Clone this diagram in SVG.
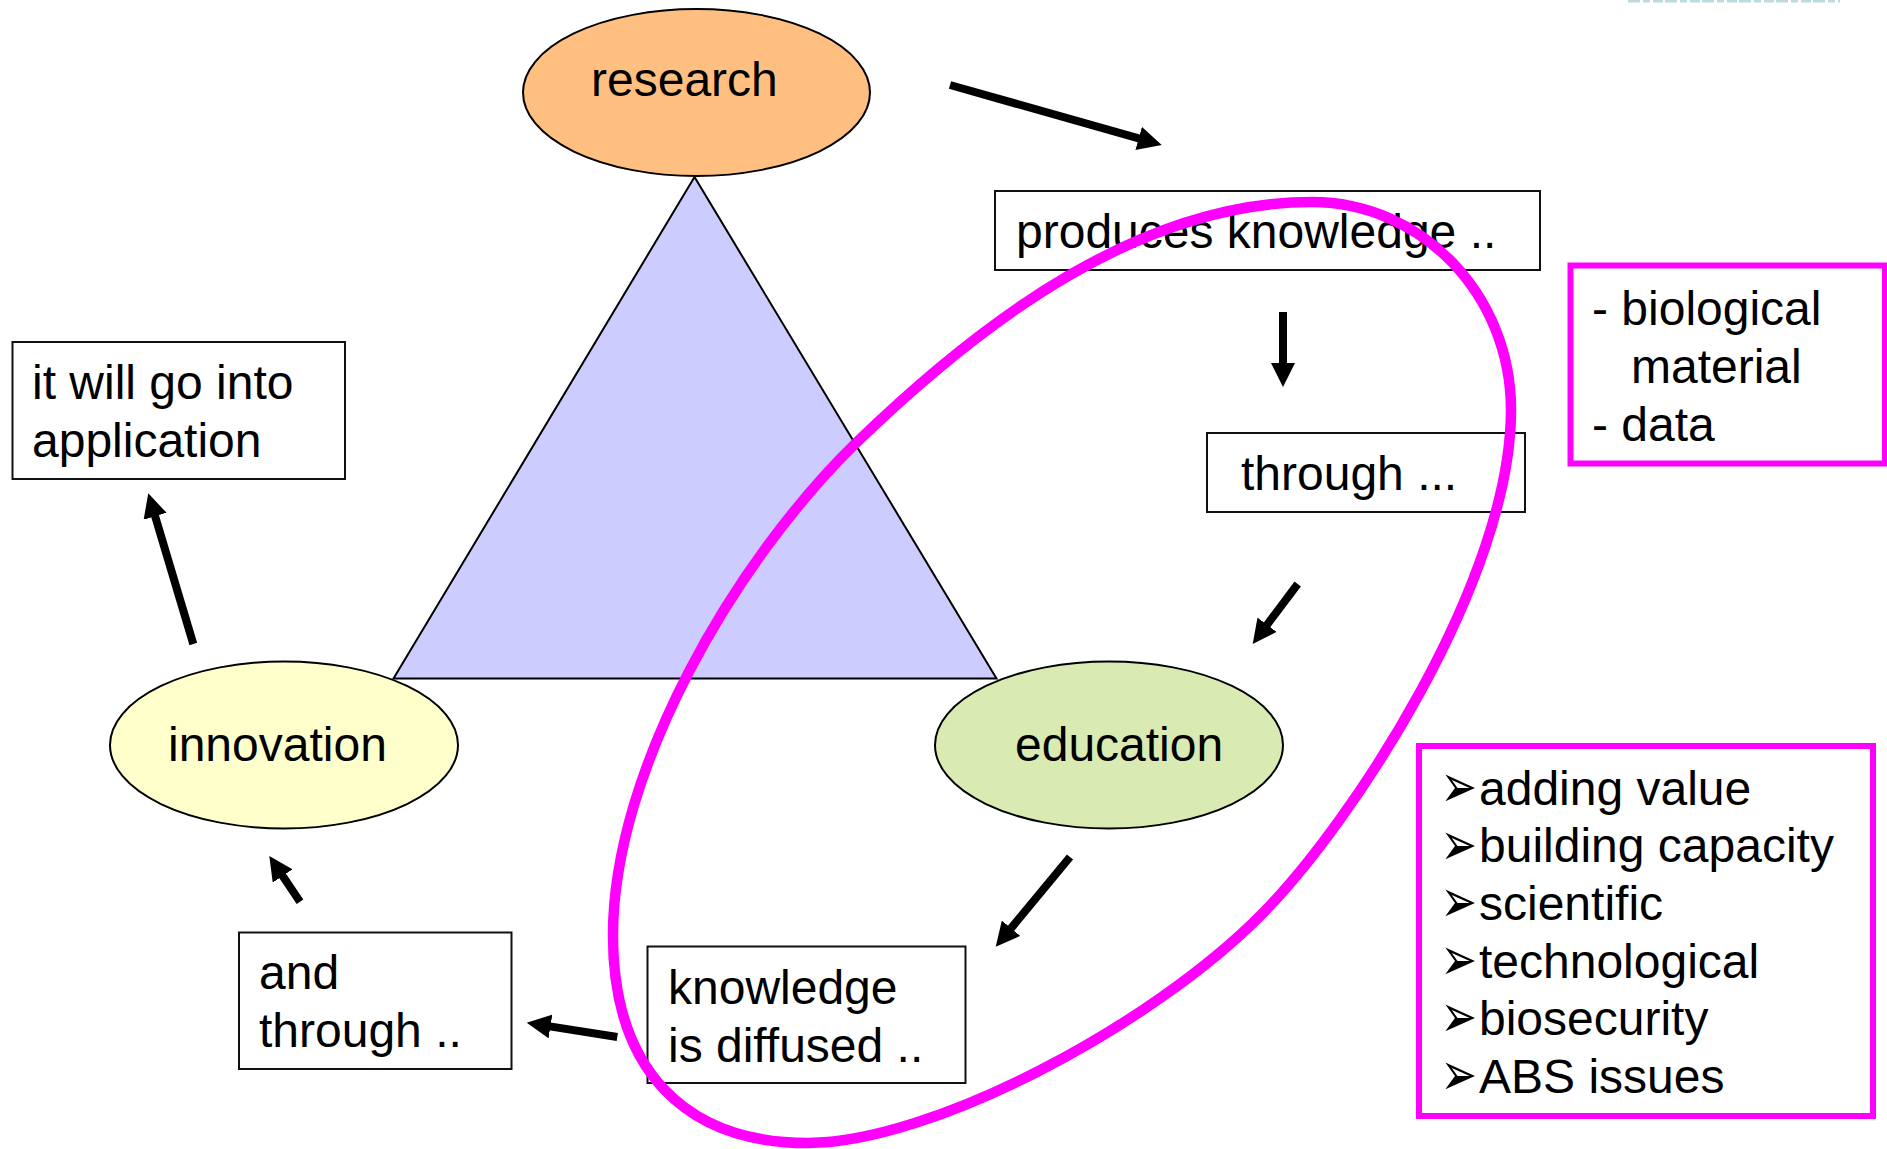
<svg xmlns="http://www.w3.org/2000/svg" width="1887" height="1149" viewBox="0 0 1887 1149">
<style>
text{font-family:"Liberation Sans",Arial,sans-serif;font-size:48px;fill:#000}
.node{stroke:#000;stroke-width:2}
.box{fill:#fff;stroke:#111;stroke-width:2}
.pink{fill:#fff;stroke:#f0f;stroke-width:6}
.arrow{fill:none;stroke:#000;stroke-width:8;marker-end:url(#head)}
text.bullet{font-family:"DejaVu Sans",sans-serif;font-size:38px}
</style>
<defs>
<marker id="head" markerUnits="userSpaceOnUse" markerWidth="24" markerHeight="24" refX="12" refY="12" orient="auto" viewBox="0 0 24 24"><path d="M0,0 L24,12 L0,24z" fill="#000"/></marker>
</defs>
<rect width="1887" height="1149" fill="#fff"/>
<line x1="1628" y1="1" x2="1840" y2="1" stroke="#bcdcdc" stroke-width="3" stroke-dasharray="12 3 7 3 10 2"/>
<g id="triangle"><polygon points="694.5,177 393.5,678.5 996.5,678.5" fill="#ccf" stroke="#000" stroke-width="2"/></g>
<g id="research"><ellipse class="node" cx="696.5" cy="92.5" rx="173.5" ry="83.5" fill="#ffbf80"/><text x="591" y="96">research</text></g>
<g id="innovation"><ellipse class="node" cx="284" cy="745" rx="174" ry="83.5" fill="#ffc"/><text x="168" y="760.5">innovation</text></g>
<g id="education"><ellipse class="node" cx="1109" cy="745" rx="174" ry="83.5" fill="#d9eab3"/><text x="1015" y="761">education</text></g>
<g id="produces"><rect class="box" x="995" y="191" width="545" height="79"/><text x="1016" y="248">produces knowledge ..</text></g>
<g id="through"><rect class="box" x="1207" y="433" width="318" height="79"/><text x="1241" y="490">through ...</text></g>
<g id="application"><rect class="box" x="12.5" y="342" width="332.5" height="137"/><text x="32" y="399">it will go into</text><text x="32" y="457">application</text></g>
<g id="andthrough"><rect class="box" x="239" y="932.5" width="272.5" height="136.5"/><text x="259" y="989">and</text><text x="259" y="1047">through ..</text></g>
<g id="diffused"><rect class="box" x="647.5" y="946.5" width="318" height="136.5"/><text x="668" y="1004">knowledge</text><text x="668" y="1062">is diffused ..</text></g>
<g id="materials"><rect class="pink" x="1570.5" y="265.5" width="314.5" height="198"/><text x="1592" y="325">- biological</text><text x="1631" y="383">material</text><text x="1592" y="441">- data</text></g>
<g id="issues"><rect class="pink" x="1419" y="746" width="454" height="370"/>
<text class="bullet" transform="translate(1440.5 807) scale(1.15 1.6)">➢</text><text x="1479" y="805">adding value</text>
<text class="bullet" transform="translate(1440.5 864.5) scale(1.15 1.6)">➢</text><text x="1479" y="862">building capacity</text>
<text class="bullet" transform="translate(1440.5 922) scale(1.15 1.6)">➢</text><text x="1479" y="920">scientific</text>
<text class="bullet" transform="translate(1440.5 980) scale(1.15 1.6)">➢</text><text x="1479" y="978">technological</text>
<text class="bullet" transform="translate(1440.5 1037) scale(1.15 1.6)">➢</text><text x="1479" y="1035">biosecurity</text>
<text class="bullet" transform="translate(1440.5 1095) scale(1.15 1.6)">➢</text><text x="1479" y="1093">ABS issues</text></g>
<g id="connectors">
<line class="arrow" x1="950" y1="85" x2="1150.2" y2="141.7"/>
<line class="arrow" x1="1283" y1="312" x2="1283" y2="375"/>
<line class="arrow" x1="1297.7" y1="584" x2="1259.9" y2="634.4"/>
<line class="arrow" x1="1070" y1="857" x2="1003.4" y2="937.5"/>
<line class="arrow" x1="617.3" y1="1037" x2="538.6" y2="1024.6"/>
<line class="arrow" x1="300" y1="901.7" x2="276" y2="866"/>
<line class="arrow" x1="193.3" y1="644" x2="151.7" y2="504.8"/>
</g>
<g id="highlight"><path d="M1312,202 C1422,202 1511,295 1511,410 C1511,580 1354,820 1263,913 C1151,1027 930,1143 808,1143 C685,1143 613,1070 613,935 C613,770 735,561 856,443 C985,318 1142,202 1312,202Z" fill="none" stroke="#f0f" stroke-width="10.5"/></g>
</svg>
